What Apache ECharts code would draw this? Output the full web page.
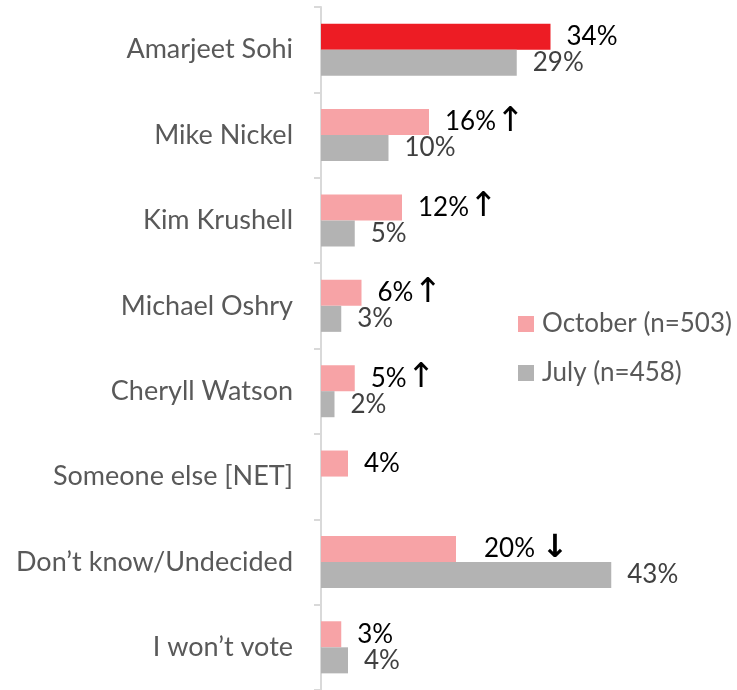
<!DOCTYPE html>
<html>
<head>
<meta charset="utf-8">
<script src="https://cdn.jsdelivr.net/npm/echarts@6/dist/echarts.min.js"></script>
<style>html,body{margin:0;padding:0;background:#fff}#c{width:737px;height:690px}</style>
</head>
<body>
<div id="c"></div>
<script>
const categories = ['Amarjeet Sohi','Mike Nickel','Kim Krushell','Michael Oshry','Cheryll Watson','Someone else [NET]','Don\u2019t know/Undecided','I won\u2019t vote'];
const octoberValues = [34, 16, 12, 6, 5, 4, 20, 3];
const julyValues = [29, 10, 5, 3, 2, null, 43, 4];
const octoberMarks = ['', '\u2191', '\u2191', '\u2191', '\u2191', '', ' \u2193', ''];
const seriesNames = ['October (n=503)', 'July (n=458)'];

const FONT = 'Lato';
const chart = echarts.init(document.getElementById('c'), null, {renderer: 'canvas'});

const octData = octoberValues.map((v, i) => {
  const d = {value: v};
  if (i === 0) d.itemStyle = {color: '#ED1C24'};
  if (octoberMarks[i].indexOf('\u2193') >= 0) d.label = {distance: 28};
  return d;
});

function markRich(m) {
  if (!m) return '';
  if (m.indexOf('\u2193') >= 0) return ' {dn|\u2193}';
  return '{up|\u2191}';
}

chart.setOption({
  animation: false,
  textStyle: {fontFamily: FONT},
  grid: {left: 321, top: 7, width: 405, bottom: 0, containLabel: false},
  legend: {
    orient: 'vertical', left: 518, top: 311, padding: 0, itemWidth: 16, itemHeight: 16, itemGap: 23,
    icon: 'rect',
    textStyle: {fontFamily: FONT, fontSize: 26, color: '#595959', padding: [0,0,0,3]},
    data: seriesNames
  },
  xAxis: {type: 'value', min: 0, max: 60, show: false},
  yAxis: {
    type: 'category', data: categories, inverse: true,
    axisLine: {lineStyle: {color: '#D9D9D9', width: 2}},
    axisTick: {show: true, length: 7, lineStyle: {color: '#D9D9D9', width: 2}},
    axisLabel: {fontFamily: FONT, fontSize: 27, color: '#595959', margin: 28}
  },
  series: [
    {
      name: seriesNames[0], type: 'bar', data: octData, barGap: '0%', barCategoryGap: '39%',
      itemStyle: {color: '#F7A3A6'},
      label: {show: true, position: 'right', distance: 16, fontFamily: FONT, fontSize: 26, color: '#000',
        formatter: p => p.value + '%' + markRich(octoberMarks[p.dataIndex]),
        rich: {
          up: {fontFamily: 'DejaVu Sans', fontSize: 34, color: '#000', fontWeight: 'normal', lineHeight: 28},
          dn: {fontFamily: 'DejaVu Sans', fontSize: 32, color: '#000', fontWeight: 'bold', lineHeight: 28}
        }
      }
    },
    {
      name: seriesNames[1], type: 'bar', data: julyValues, barGap: '0%', barCategoryGap: '39%',
      itemStyle: {color: '#B3B3B3'},
      label: {show: true, position: 'right', distance: 16, fontFamily: FONT, fontSize: 26, color: '#404040',
        formatter: p => p.value + '%'}
    }
  ]
});
</script>
</body>
</html>
